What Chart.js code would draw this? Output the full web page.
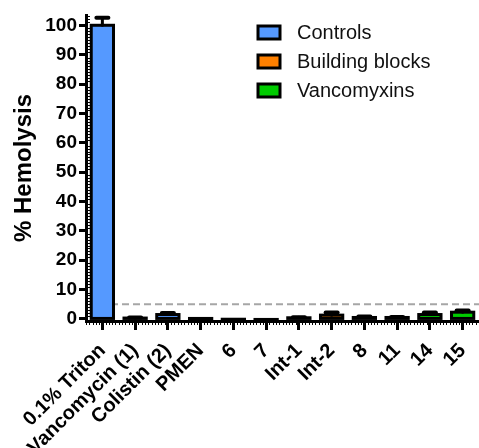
<!DOCTYPE html>
<html>
<head>
<meta charset="utf-8">
<script src="https://cdn.jsdelivr.net/npm/chart.js@4/dist/chart.umd.min.js"></script>
<style>
  html, body { margin: 0; padding: 0; background: #fff; }
  #wrap { width: 479px; height: 448px; position: relative; }
</style>
</head>
<body>
<div id="wrap"><canvas id="chart"></canvas></div>
<script>
// Hemolysis (% of Triton X-100 lysis), mean and SEM per compound
const categories = ['0.1% Triton', 'Vancomycin (1)', 'Colistin (2)', 'PMEN', '6', '7',
                    'Int-1', 'Int-2', '8', '11', '14', '15'];
const groupNames = ['Controls', 'Building blocks', 'Vancomyxins'];
const groupColors = ['#5599FF', '#FF8000', '#00CC00'];
const groupOfCategory = [0, 0, 0, 1, 1, 1, 1, 1, 2, 2, 2, 2];
const hemolysis = [100, 0.3, 1.5, 0.1, -0.1, -0.4, 0.4, 1.3, 0.5, 0.5, 1.5, 2.3];
const hemolysisSem = [2.6, 0.2, 0.5, 0, 0, 0, 0.2, 0.9, 0.3, 0.2, 0.7, 0.6];
const yTickValues = [0, 10, 20, 30, 40, 50, 60, 70, 80, 90, 100];
const thresholdValue = 5;

const FONT = "Arial, 'Liberation Sans', Helvetica, sans-serif";

// one dataset per group, null where a compound belongs to another group
const datasets = groupNames.map((name, g) => ({
  label: name,
  data: hemolysis.map((v, i) => (groupOfCategory[i] === g ? v : null)),
  backgroundColor: groupColors[g],
  borderWidth: 0,
  grouped: false,
  categoryPercentage: 1,
  barPercentage: 0.68
}));

const decor = {
  id: 'decor',
  beforeDatasetsDraw(chart) {
    const { ctx, chartArea, scales: { y } } = chart;
    const py = y.getPixelForValue(thresholdValue);
    ctx.save();
    ctx.strokeStyle = '#A6A6A6';
    ctx.lineWidth = 2;
    ctx.setLineDash([7, 4]);
    ctx.beginPath();
    ctx.moveTo(chartArea.left + 3, py);
    ctx.lineTo(chartArea.right, py);
    ctx.stroke();
    ctx.restore();
  },
  afterDatasetsDraw(chart) {
    const { ctx, scales: { y } } = chart;
    ctx.save();
    ctx.strokeStyle = '#000';
    ctx.lineWidth = 3;
    chart.data.datasets.forEach((ds, di) => {
      const meta = chart.getDatasetMeta(di);
      meta.data.forEach((bar, i) => {
        const v = ds.data[i];
        if (v == null) return;
        const p = bar.getProps(['x', 'y', 'base', 'width'], true);
        const err = hemolysisSem[i];
        if (err > 0) {
          const ty = y.getPixelForValue(v + err);
          ctx.lineCap = 'round';
          ctx.beginPath(); ctx.moveTo(p.x, p.y); ctx.lineTo(p.x, ty); ctx.stroke();
          ctx.lineWidth = 4;
          ctx.beginPath(); ctx.moveTo(p.x - 6, ty); ctx.lineTo(p.x + 6, ty); ctx.stroke();
          ctx.lineWidth = 3;
        }
        ctx.lineCap = 'butt';
        ctx.lineJoin = 'miter';
        ctx.strokeRect(p.x - p.width / 2, Math.min(p.y, p.base), p.width, Math.abs(p.base - p.y));
      });
    });
    ctx.restore();
  },
  afterDraw(chart) {
    const { ctx, chartArea, scales: { x, y } } = chart;
    ctx.save();
    ctx.strokeStyle = '#000';
    ctx.lineWidth = 1;
    // minor ticks along the y axis, one per unit
    for (let v = 0; v <= 103; v++) {
      if (v % 10 === 0) continue;
      const py = Math.round(y.getPixelForValue(v)) + 0.5;
      ctx.beginPath(); ctx.moveTo(chartArea.left + 1, py); ctx.lineTo(chartArea.left + 4, py); ctx.stroke();
    }
    // minor ticks under the x axis, ten per category
    for (let i = 0; i < categories.length; i++) {
      for (let k = 0; k < 10; k++) {
        const px = Math.round(x.getPixelForValue(i - 0.5 + k / 10)) + 0.5;
        ctx.beginPath(); ctx.moveTo(px, chartArea.bottom + 1); ctx.lineTo(px, chartArea.bottom + 4); ctx.stroke();
      }
    }
    // legend
    ctx.font = '20px ' + FONT;
    ctx.textBaseline = 'middle';
    ctx.textAlign = 'left';
    groupNames.forEach((name, g) => {
      const cy = 32.5 + g * 29;
      ctx.fillStyle = groupColors[g];
      ctx.fillRect(258, cy - 6.5, 22, 13);
      ctx.lineWidth = 3;
      ctx.strokeStyle = '#000';
      ctx.strokeRect(258, cy - 6.5, 22, 13);
      ctx.fillStyle = '#111';
      ctx.fillText(name, 297, cy + 1);
    });
    ctx.restore();
  }
};

new Chart(document.getElementById('chart'), {
  type: 'bar',
  data: { labels: categories, datasets },
  options: {
    responsive: true,
    maintainAspectRatio: false,
    devicePixelRatio: 1,
    animation: false,
    layout: { padding: { top: 15, left: 0, right: 0, bottom: 0 } },
    plugins: { legend: { display: false }, tooltip: { enabled: false } },
    scales: {
      x: {
        offset: true,
        grid: { display: true, drawOnChartArea: false, offset: false, tickLength: 9, tickWidth: 3, tickColor: '#000' },
        border: { display: true, width: 3, color: '#000' },
        ticks: {
          autoSkip: false, minRotation: 45, maxRotation: 45, padding: 9,
          color: '#000', font: { family: FONT, size: 20, weight: 'bold' }
        },
        afterFit(s) { s.height = 448 - 321; s.paddingLeft = 0; s.paddingRight = 0; }
      },
      y: {
        min: -0.7,
        max: 103.5,
        afterBuildTicks(s) { s.ticks = yTickValues.map(v => ({ value: v })); },
        grid: { display: true, drawOnChartArea: false, tickLength: 7, tickWidth: 3, tickColor: '#000' },
        border: { display: true, width: 3, color: '#000' },
        ticks: { padding: 2, color: '#000', font: { family: FONT, size: 19, weight: 'bold' } },
        title: {
          display: true, text: '% Hemolysis', color: '#000',
          font: { family: FONT, size: 24, weight: 'bold' },
          padding: { top: 10, bottom: 0 }
        },
        afterFit(s) { s.width = 86; s.paddingTop = 0; s.paddingBottom = 0; }
      }
    }
  },
  plugins: [decor]
});
</script>
</body>
</html>
